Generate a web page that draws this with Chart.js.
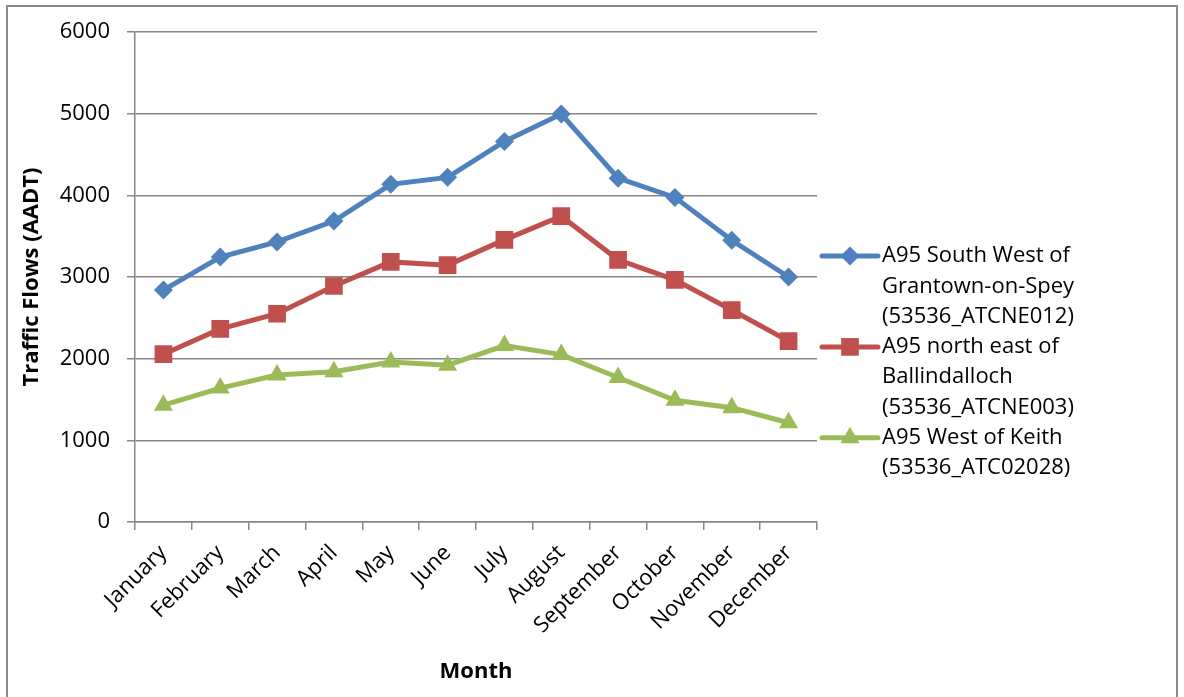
<!DOCTYPE html>
<html>
<head>
<meta charset="utf-8">
<script src="https://cdn.jsdelivr.net/npm/chart.js@4.4.1/dist/chart.umd.min.js"></script>
<style>
  html, body { margin: 0; padding: 0; background: #fff; }
  #wrap { position: relative; width: 1184px; height: 697px; }
</style>
</head>
<body>
<div id="wrap"><canvas id="chart" width="1184" height="697"></canvas></div>
<script>
// Monthly traffic flows (AADT) at three A95 counter sites
const months = ['January', 'February', 'March', 'April', 'May', 'June', 'July',
                'August', 'September', 'October', 'November', 'December'];

const grantownFlows = [2840, 3245, 3430, 3685, 4135, 4220, 4660, 4995, 4210, 3975, 3450, 3000];
const ballindallochFlows = [2055, 2365, 2550, 2890, 3185, 3145, 3455, 3745, 3210, 2965, 2595, 2215];
const keithFlows = [1430, 1640, 1800, 1840, 1960, 1920, 2160, 2050, 1770, 1490, 1400, 1215];

const seriesNames = [
  ['A95 South West of', 'Grantown-on-Spey', '(53536_ATCNE012)'],
  ['A95 north east of', 'Ballindalloch', '(53536_ATCNE003)'],
  ['A95 West of Keith', '(53536_ATC02028)']
];

const yTicks = [0, 1000, 2000, 3000, 4000, 5000, 6000];

const FONT = "'Open Sans', 'Noto Sans', sans-serif";
const FONT_SIZE = 22;
const GRID = '#868686';

const series = [
  { values: grantownFlows, color: '#4F81BD', style: 'rectRot', radius: 9.5 },
  { values: ballindallochFlows, color: '#C0504D', style: 'rect', radius: 12.5 },
  { values: keithFlows, color: '#9BBB59', style: 'triangle', radius: 11 }
];

// Legend with wrapped, multi-line entries to the right of the plot
const sideLegend = {
  id: 'sideLegend',
  afterDraw(chart) {
    const ctx = chart.ctx;
    const area = chart.chartArea;
    const lineH = 30.3;
    const lineX0 = area.right + 5;
    const lineX1 = area.right + 61;
    const textX = area.right + 65;
    let y = area.top + 224;
    ctx.save();
    ctx.font = FONT_SIZE + 'px ' + FONT;
    ctx.textBaseline = 'middle';
    ctx.textAlign = 'left';
    seriesNames.forEach((lines, i) => {
      const s = series[i];
      ctx.strokeStyle = s.color;
      ctx.lineWidth = 5;
      ctx.lineCap = 'round';
      ctx.beginPath();
      ctx.moveTo(lineX0, y);
      ctx.lineTo(lineX1, y);
      ctx.stroke();
      ctx.fillStyle = s.color;
      Chart.helpers.drawPoint(ctx, { pointStyle: s.style, radius: s.radius, borderWidth: 0 },
        (lineX0 + lineX1) / 2, y);
      ctx.fillStyle = '#000';
      lines.forEach((t, k) => ctx.fillText(t, textX, y + k * lineH));
      y += lines.length * lineH;
    });
    ctx.restore();
  }
};

// Thin frame around the whole chart
const frame = {
  id: 'frame',
  beforeDraw(chart) {
    const ctx = chart.ctx;
    ctx.save();
    ctx.fillStyle = '#fff';
    ctx.fillRect(0, 0, chart.width, chart.height);
    ctx.strokeStyle = '#8c8c8c';
    ctx.lineWidth = 2;
    ctx.strokeRect(7, 6, chart.width - 14, chart.height + 10);
    ctx.restore();
  }
};

new Chart(document.getElementById('chart'), {
  type: 'line',
  data: {
    labels: months,
    datasets: series.map((s, i) => ({
      label: seriesNames[i].join(' '),
      data: s.values,
      borderColor: s.color,
      backgroundColor: s.color,
      borderWidth: 5,
      pointStyle: s.style,
      pointRadius: s.radius,
      pointHoverRadius: s.radius,
      pointBorderWidth: 0,
      pointBackgroundColor: s.color,
      tension: 0,
      fill: false
    }))
  },
  options: {
    responsive: false,
    animation: false,
    devicePixelRatio: 1,
    layout: { padding: { top: 32, right: 367, left: 0, bottom: 0 } },
    plugins: {
      legend: { display: false },
      tooltip: { enabled: false }
    },
    scales: {
      x: {
        type: 'category',
        offset: true,
        afterFit(scale) { scale.height = 175; },
        grid: {
          offset: true,
          drawOnChartArea: false,
          drawTicks: true,
          tickLength: 8,
          color: GRID,
          lineWidth: 1.5
        },
        border: { display: true, color: GRID, width: 1.5 },
        ticks: {
          minRotation: 45,
          maxRotation: 45,
          autoSkip: false,
          padding: 10,
          color: '#000',
          font: { family: FONT, size: FONT_SIZE }
        },
        title: {
          display: true,
          text: 'Month',
          color: '#000',
          font: { family: FONT, size: FONT_SIZE, weight: 'bold' },
          padding: { top: 0, bottom: 12 }
        }
      },
      y: {
        min: 0,
        max: 6000,
        afterFit(scale) { scale.width = 135; },
        afterBuildTicks(scale) { scale.ticks = yTicks.map(v => ({ value: v })); },
        grid: {
          color: GRID,
          lineWidth: 1.5,
          tickLength: 8,
          drawTicks: true
        },
        border: { display: true, color: GRID, width: 1.5 },
        ticks: {
          padding: 17,
          color: '#000',
          font: { family: FONT, size: FONT_SIZE },
          callback: v => String(v)
        },
        title: {
          display: true,
          text: 'Traffic Flows (AADT)',
          color: '#000',
          font: { family: FONT, size: FONT_SIZE, weight: 'bold' },
          padding: { top: 19, bottom: 0 }
        }
      }
    }
  },
  plugins: [frame, sideLegend]
});
</script>
</body>
</html>
